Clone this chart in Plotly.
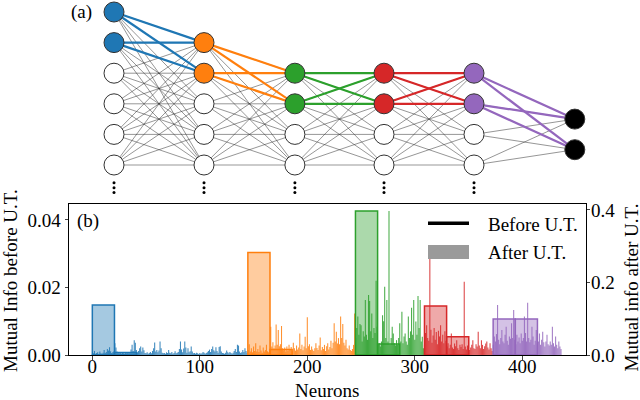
import numpy as np
import plotly.graph_objects as go

# ---------------- data ----------------
# "Before U.T." mutual information per neuron (in units of 1e-3)
blue_before_milli = [
    0.3, 0.5, 1.2, 0.4, 0.6, 0.8, 0.3, 1.0, 0.5, 0.4,
    0.7, 1.5, 0.6, 0.9, 1.8, 1.3, 2.3, 1.1, 0.6, 0.8,
    1.0, 3.5, 2.2, 1.0, 0.6, 0.5, 0.7, 0.4, 0.6, 0.5,
    0.4, 0.6, 0.5, 0.7, 0.5, 0.9, 1.6, 3.0, 1.2, 4.4,
    3.6, 1.5, 0.8, 1.2, 2.0, 2.5, 1.0, 2.2, 1.4, 0.6,
    0.5, 0.8, 0.4, 0.6, 0.9, 0.5, 1.2, 2.0, 3.7, 1.0,
    1.5, 0.8, 1.3, 4.0, 2.0, 0.7, 0.5, 0.6, 0.4, 0.8,
    0.6, 1.5, 0.7, 0.5, 0.9, 0.4, 0.6, 1.1, 0.5, 0.7,
    0.9, 1.8, 4.0, 1.6, 0.8, 1.9, 4.0, 2.2, 0.7, 2.0,
    0.8, 1.1, 2.5, 1.0, 0.5, 0.6, 0.4, 0.7, 0.5, 0.3,
    0.6, 0.4, 0.5, 0.9, 0.7, 0.4, 0.6, 0.8, 1.2, 1.6,
    0.9, 1.8, 2.5, 1.4, 1.0, 2.3, 1.2, 0.7, 2.4, 2.6,
    1.0, 0.6, 0.5, 0.4, 0.7, 1.3, 0.8, 0.5, 0.9, 0.6,
    0.4, 0.7, 1.2, 1.8, 0.9, 3.0, 2.8, 1.0, 0.6, 0.8,
    1.5, 0.9, 2.0, 1.2, 0.7,
]
orange_before_milli = [
    1.5, 3.2, 1.0, 2.0, 0.8, 2.5, 1.2, 3.5, 1.0, 1.8,
    0.9, 2.8, 1.3, 0.7, 2.2, 1.0, 1.5, 3.0, 1.1, 0.8,
    1.6, 8.4, 2.5, 3.8, 1.9, 2.8, 9.0, 3.0, 7.4, 2.6,
    3.2, 8.6, 2.0, 1.4, 2.2, 1.0, 2.5, 1.2, 3.0, 1.5,
    2.4, 1.1, 3.6, 2.0, 1.3, 2.8, 1.6, 2.2, 6.4, 1.8,
    3.0, 1.4, 2.5, 5.4, 2.0, 11.2, 2.6, 3.2, 1.5, 2.5,
    1.6, 1.2, 2.0, 3.5, 2.1, 1.5, 2.8, 5.2, 1.4, 2.4,
    1.8, 3.0, 1.2, 2.6, 3.5, 1.6, 2.4, 4.2, 2.0, 3.6,
    9.4, 4.0, 6.9, 3.4, 5.0, 3.2, 11.4, 5.0, 9.2, 3.6,
    2.8, 4.5, 2.0, 1.6, 2.8, 1.5, 1.2, 1.8, 3.0, 12.3,
]
green_before_milli = [
    5.0, 8.0, 11.4, 6.0, 9.2, 8.8, 4.0, 7.0, 5.5, 16.3,
    6.0, 4.5, 17.8, 16.0, 7.0, 12.3, 5.0, 8.0, 6.5, 22.0,
    8.4, 3.0, 3.5, 2.5, 4.0, 11.8, 10.0, 20.2, 5.0, 16.3,
    4.0, 42.7, 3.0, 5.0, 8.4, 6.4, 3.5, 2.8, 4.4, 3.0,
    5.0, 9.4, 4.0, 12.8, 3.5, 5.5, 6.4, 4.0, 3.0, 11.4,
    5.0, 7.0, 14.0, 6.0, 16.3, 4.5, 9.9, 6.0, 17.5, 8.0,
    16.3, 4.0, 5.4, 2.0,
]
red_before_milli = [
    3.0, 6.5, 8.8, 5.0, 4.2, 29.0, 7.5, 3.6, 5.8, 8.0,
    4.5, 6.8, 3.2, 7.2, 5.5, 8.8, 4.0, 6.0, 3.5, 7.0,
    4.2, 2.5, 3.5, 2.0, 3.0, 6.4, 2.2, 1.8, 3.4, 2.6,
    4.4, 2.0, 1.5, 3.0, 2.4, 3.2, 1.8, 21.7, 2.5, 1.6,
    2.8, 4.4, 1.5, 2.2, 3.0, 4.4, 2.0, 1.8, 3.2, 2.5,
    6.9, 2.8, 2.0, 4.4, 3.0, 1.8, 2.6, 3.4, 4.0, 2.2,
    1.6, 3.5, 2.0, 1.2,
]
purple_before_milli = [
    3.0, 5.5, 4.0, 6.2, 14.8, 4.5, 3.2, 5.0, 7.4, 4.0,
    3.5, 6.0, 8.4, 4.2, 3.0, 5.5, 4.8, 9.4, 5.0, 13.3,
    4.5, 3.2, 6.0, 4.0, 5.2, 3.5, 6.4, 4.2, 5.0, 11.4,
    6.5, 4.0, 15.5, 5.0, 3.8, 4.5, 8.4, 5.5, 3.0, 4.2,
    7.4, 3.5, 4.0, 6.4, 3.0, 4.5, 6.9, 3.8, 2.5, 4.0,
    6.0, 3.2, 2.8, 4.0, 3.0, 8.4, 3.5, 2.5, 5.5, 3.0,
    2.0, 4.0, 2.5, 1.8,
]

# "After U.T." mutual information (right axis): bar centre (neuron index) and value
after_blue_x, after_blue_v = [10.3, 30.9], [0.138, 0.007]
after_orange_x, after_orange_v = [155.0, 175.6], [0.283, 0.015]
after_green_x, after_green_v = [255.1, 275.7], [0.397, 0.030]
after_red_x, after_red_v = [319.3, 339.9], [0.135, 0.050]
after_purple_x, after_purple_v = [383.2, 403.8], [0.099, 0.099]
after_bar_width = 20.6

x_ticks = [0, 100, 200, 300, 400]
y_left_ticks = [0.0, 0.02, 0.04]
y_right_ticks = [0.0, 0.2, 0.4]

# network diagram structure (panel a)
layer_pos = [0, 1, 2.01, 3, 4, 5.12]
layer_rows = [[0, 1, 2, 3, 4, 5], [1, 2, 3, 4, 5], [2, 3, 4, 5],
              [2, 3, 4, 5], [2, 3, 4, 5], [3.5, 4.5]]
highlight_rows = [[0, 1], [1, 2], [2, 3], [2, 3], [2, 3], [3.5, 4.5]]
ellipsis_rows = [5.58, 5.74, 5.9]

colors = ["#1f77b4", "#ff7f0e", "#2ca02c", "#d62728", "#9467bd", "#000000"]


def rgba(hexc, a):
    h = hexc.lstrip("#")
    r, g, b = int(h[0:2], 16), int(h[2:4], 16), int(h[4:6], 16)
    return f"rgba({r},{g},{b},{a})"


FONT = "Liberation Serif, Times New Roman, DejaVu Serif, serif"
fig = go.Figure()

# ---------------- panel (b) ----------------
before_sets = [blue_before_milli, orange_before_milli, green_before_milli,
               red_before_milli, purple_before_milli]
start = 0
for vals, c in zip(before_sets, colors[:5]):
    idx = np.arange(start, start + len(vals))
    start += len(vals)
    fig.add_trace(go.Bar(
        x=idx, y=np.array(vals) / 1000.0, width=1.0,
        marker=dict(color=rgba(c, 0.85), line=dict(width=0)),
        xaxis="x", yaxis="y", showlegend=False))

after_sets = [(after_blue_x, after_blue_v), (after_orange_x, after_orange_v),
              (after_green_x, after_green_v), (after_red_x, after_red_v),
              (after_purple_x, after_purple_v)]
for (ax_, av), c in zip(after_sets, colors[:5]):
    fig.add_trace(go.Bar(
        x=ax_, y=av, width=after_bar_width,
        marker=dict(color=rgba(c, 0.4), line=dict(color=c, width=1.5)),
        xaxis="x", yaxis="y2", showlegend=False))

# ---------------- panel (a): network ----------------
gx, gy = [], []
for i in range(len(layer_rows) - 1):
    for r0 in layer_rows[i]:
        for r1 in layer_rows[i + 1]:
            gx += [layer_pos[i], layer_pos[i + 1], None]
            gy += [r0, r1, None]
fig.add_trace(go.Scatter(x=gx, y=gy, mode="lines",
                         line=dict(color="rgba(40,40,40,0.7)", width=0.7),
                         xaxis="x3", yaxis="y3", showlegend=False, hoverinfo="skip"))

for i in range(len(layer_rows) - 1):
    cx, cy = [], []
    for r0 in highlight_rows[i]:
        for r1 in highlight_rows[i + 1]:
            cx += [layer_pos[i], layer_pos[i + 1], None]
            cy += [r0, r1, None]
    fig.add_trace(go.Scatter(x=cx, y=cy, mode="lines",
                             line=dict(color=colors[i], width=2.2),
                             xaxis="x3", yaxis="y3", showlegend=False, hoverinfo="skip"))

for i, rows in enumerate(layer_rows):
    fills = [colors[i] if r in highlight_rows[i] else "white" for r in rows]
    fig.add_trace(go.Scatter(
        x=[layer_pos[i]] * len(rows), y=rows, mode="markers",
        marker=dict(size=20, color=fills, line=dict(color="#333333", width=1)),
        xaxis="x3", yaxis="y3", showlegend=False, hoverinfo="skip", cliponaxis=False))

ex, ey = [], []
for i in range(len(layer_rows) - 1):
    for r in ellipsis_rows:
        ex.append(layer_pos[i])
        ey.append(r)
fig.add_trace(go.Scatter(x=ex, y=ey, mode="markers",
                         marker=dict(size=3, color="black"),
                         xaxis="x3", yaxis="y3", showlegend=False, hoverinfo="skip"))

# ---------------- layout ----------------
W, H = 640, 400
axis_font = dict(family=FONT, size=19, color="black")

fig.update_layout(
    width=W, height=H,
    margin=dict(l=0, r=0, t=0, b=0, pad=0, autoexpand=False),
    paper_bgcolor="white", plot_bgcolor="rgba(0,0,0,0)",
    barmode="overlay", showlegend=False,
    font=dict(family=FONT, size=19, color="black"),
    xaxis=dict(domain=[69 / W, 585.7 / W], range=[-21.7, 459], automargin=False,
               tickvals=x_ticks, ticks="outside", ticklen=3.5, tickwidth=1,
               ticklabelstandoff=-9,
               showline=True, linecolor="black", linewidth=1, mirror=True,
               showgrid=False, zeroline=False, tickfont=axis_font, anchor="y"),
    yaxis=dict(domain=[45 / H, 195.7 / H], range=[0, 0.04465], automargin=False,
               tickvals=y_left_ticks, tickformat=".2f", ticks="outside", ticklen=3.5,
               showline=True, linecolor="black", linewidth=1,
               showgrid=False, zeroline=False, tickfont=axis_font, anchor="x"),
    yaxis2=dict(overlaying="y", side="right", range=[0, 0.4157], automargin=False,
                tickvals=y_right_ticks, tickformat=".1f", ticks="outside", ticklen=3.5,
                ticklabelstandoff=-3,
                showline=True, linecolor="black", linewidth=1,
                showgrid=False, zeroline=False, tickfont=axis_font, anchor="x"),
    xaxis3=dict(domain=[0, 1], range=[-114 / 90, 526 / 90], visible=False,
                anchor="y3", fixedrange=True, automargin=False),
    yaxis3=dict(domain=[0, 1], range=[388 / 30.6, -12 / 30.6], visible=False,
                anchor="x3", fixedrange=True, automargin=False),
)

# legend (drawn manually, matching the reference)
fig.add_shape(type="line", xref="paper", yref="paper",
              x0=428 / W, x1=469 / W, y0=1 - 223.3 / H, y1=1 - 223.3 / H,
              line=dict(color="black", width=3.5))
fig.add_shape(type="rect", xref="paper", yref="paper",
              x0=428 / W, x1=469 / W, y0=1 - 259 / H, y1=1 - 245 / H,
              fillcolor="#9a9a9a", line=dict(width=0))

annots = [
    dict(text="Before U.T.", x=486 / W, y=1 - 224 / H, xanchor="left", yanchor="middle"),
    dict(text="After U.T.", x=486 / W, y=1 - 253 / H, xanchor="left", yanchor="middle"),
    dict(text="(b)", x=88 / W, y=1 - 221 / H, xanchor="center", yanchor="middle"),
    dict(text="(a)", x=81 / W, y=1 - 12 / H, xanchor="center", yanchor="middle"),
    dict(text="Neurons", x=327.4 / W, y=1 - 390 / H, xanchor="center", yanchor="middle"),
    dict(text="Mutual Info before U.T.", x=10 / W, y=1 - 281 / H, textangle=-90,
         xanchor="center", yanchor="middle"),
    dict(text="Mutual info after U.T.", x=631 / W, y=1 - 287.5 / H, textangle=-90,
         xanchor="center", yanchor="middle"),
]
for a in annots:
    fig.add_annotation(xref="paper", yref="paper", showarrow=False,
                       font=dict(family=FONT, size=19, color="black"), **a)

fig.write_html("out.html", config={"displayModeBar": False},
               post_script="document.body.style.margin='0';document.body.style.padding='0';")
